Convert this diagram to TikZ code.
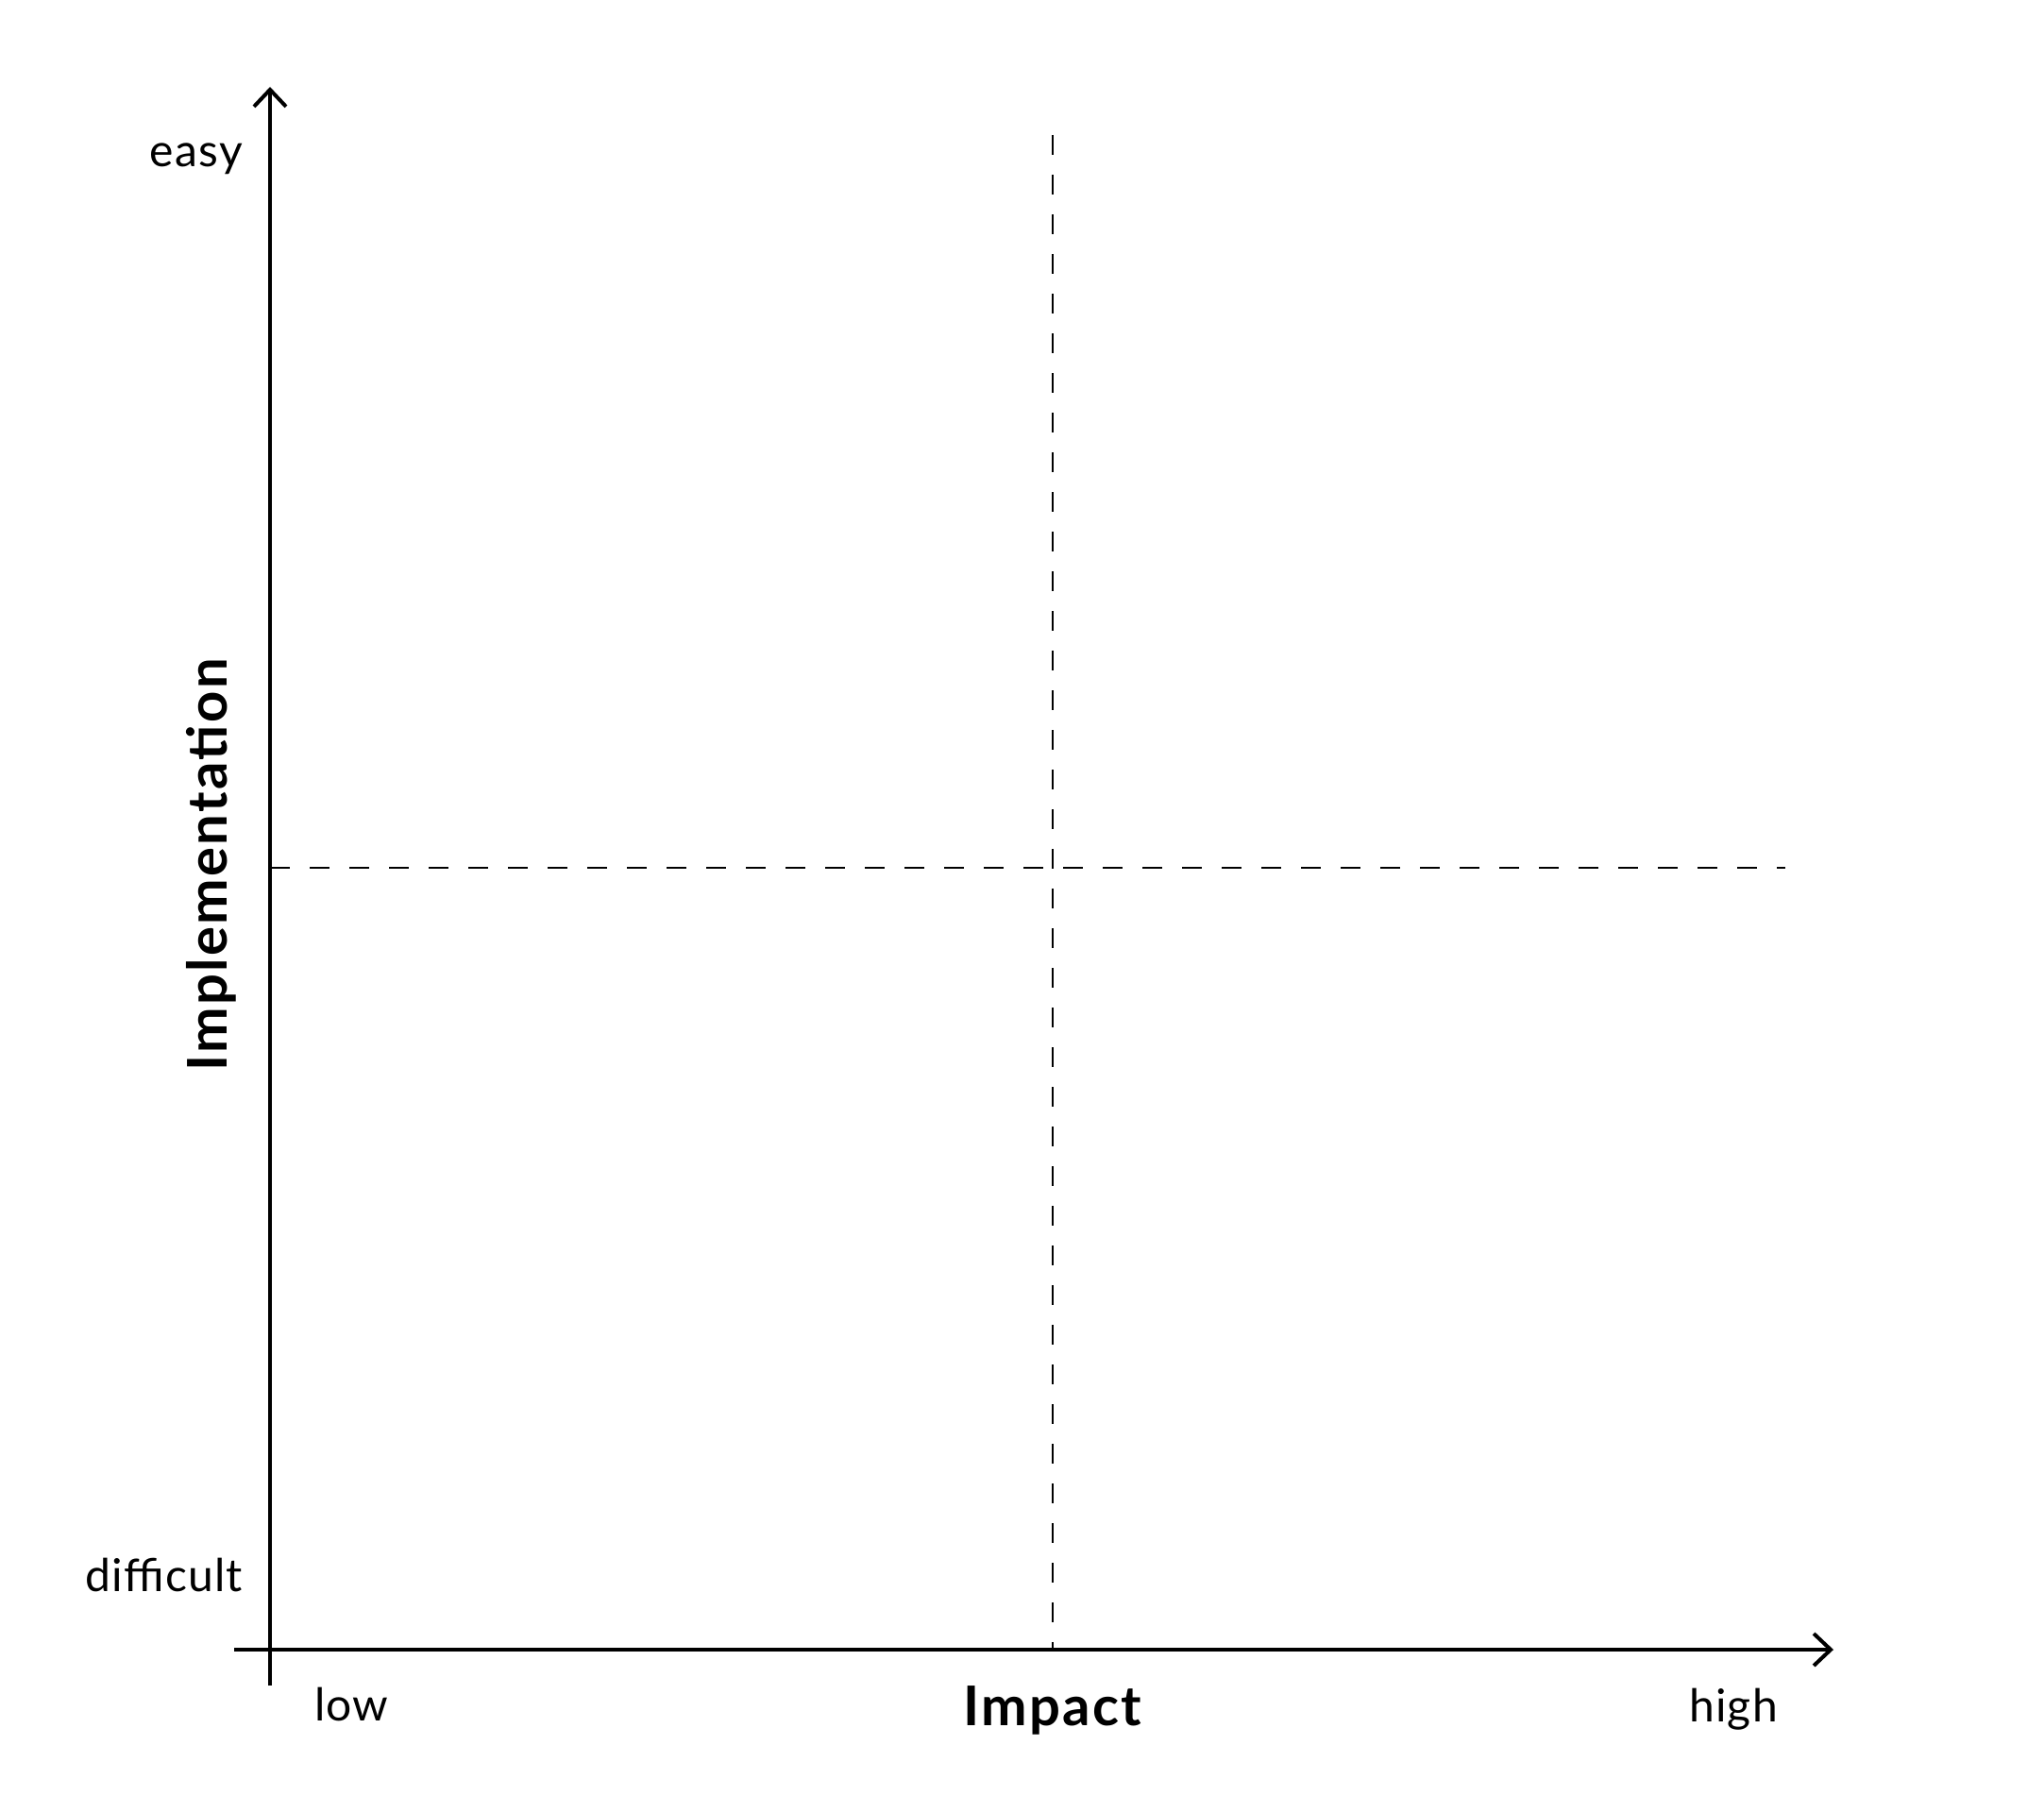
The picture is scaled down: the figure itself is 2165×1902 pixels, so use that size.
\documentclass[tikz,border=0pt]{standalone}
\usepackage{fontspec}
\setmainfont{Lato}
\usepackage{xcolor}
\usepackage{tikz}
\usetikzlibrary{arrows.meta}

\tikzset{
  axis/.style={draw=black,line width=4pt,-{Straight Barb[length=18pt,width=34pt]}},
  guide/.style={draw=black,line width=2.5pt,dash pattern=on 21pt off 21pt},
  lbl/.style={inner sep=0pt,font=\fontsize{48}{56}\selectfont\addfontfeatures{LetterSpace=2.5}},
  axtitle/.style={inner sep=0pt,font=\fontsize{58}{66}\selectfont\bfseries\addfontfeatures{LetterSpace=4}}
}

\begin{document}
\begin{tikzpicture}[x=1pt,y=-1pt]
        \useasboundingbox (0,0) rectangle (2165,1902);
        % axis ends
        \coordinate (ytip) at (286,92);
        \coordinate (ybot) at (286,1785);
        \coordinate (xleft) at (248,1747);
        \coordinate (xtip) at (1942,1747);
        % quadrant guides
        \coordinate (vtop) at (1115,143);
        \coordinate (vbot) at (1115,1747);
        \coordinate (hleft) at (286,919);
        \coordinate (hright) at (1891,919);

        \draw[guide] (vtop) -- (vbot);
        \draw[guide] (hleft) -- (hright);
        \draw[axis] (ybot) -- (ytip);
        \draw[axis] (xleft) -- (xtip);

        \node[lbl,anchor=base east] (easy) at (257,177) {easy};
        \node[lbl,anchor=base east] (difficult) at (257,1685) {difficult};
        \node[lbl,anchor=base west] (low) at (333,1822) {low};
        \node[lbl,anchor=base] (high) at (1836,1823) {high};
        \node[axtitle,anchor=base] (impact) at (1115,1827) {Impact};
        \node[axtitle,anchor=base,rotate=90] (impl) at (240,916) {Implementation};
      \end{tikzpicture}
\end{document}
